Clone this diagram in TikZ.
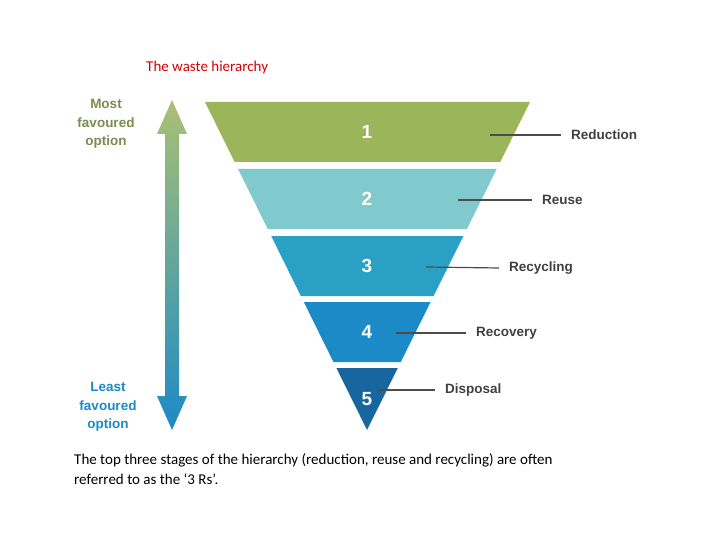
\documentclass[tikz,border=0pt]{standalone}
\usepackage{fontspec}
\setmainfont{Carlito}
\newfontfamily\arialf{Liberation Sans}
\begin{document}
\begin{tikzpicture}[x=1pt,y=-1pt,
  lbl/.style={font=\arialf\bfseries\fontsize{13.5}{14}\selectfont, text=black!75, anchor=west, inner sep=0},
  num/.style={font=\arialf\bfseries\fontsize{19}{19}\selectfont, text=white},
  lead/.style={draw=black!70, line width=1.2pt},
  side/.style={font=\arialf\bfseries\fontsize{13.5}{18.5}\selectfont, align=center}]
\useasboundingbox (0,0) rectangle (720,540);
\fill[white] (0,0) rectangle (720,540);
\definecolor{c1}{HTML}{9BB55A}\definecolor{c2}{HTML}{80C9CC}
\definecolor{c3}{HTML}{2AA0C4}\definecolor{c4}{HTML}{1C8AC6}
\definecolor{c5}{HTML}{17669F}
\foreach \a/\b/\c/\n in {102/162/c1/1,169/229/c2/2,236/296/c3/3,302/362/c4/4,368/430/c5/5}{
  \fill[\c] ({205+0.494*(\a-102)},\a) -- ({530-0.497*(\a-102)},\a) -- ({530-0.497*(\b-102)},\b) -- ({205+0.494*(\b-102)},\b) -- cycle;
  \node[num] (n\n) at (367,{(\a+\b)/2}) {\n};
}
\node[lbl] (l1) at (571,135) {Reduction};
\node[lbl] (l2) at (542,200) {Reuse};
\node[lbl] (l3) at (509,268) {Recycling};
\node[lbl] (l4) at (476,333) {Recovery};
\node[lbl] (l5) at (445,390) {Disposal};
\coordinate (s1) at (490,135);\coordinate (s2) at (458,200);
\coordinate (s3) at (426,267);\coordinate (s4) at (396,333);
\coordinate (s5) at (378,390);
\foreach \i in {1,...,5}{\draw[lead] (s\i) -- ([xshift=-10pt]l\i.west);}
% arrow
\shade[top color=c1!85!white, bottom color=c4]
 (172,100) -- (187,134) -- (179,134) -- (179,396) -- (187,396) -- (172,430) -- (157,396) -- (165,396) -- (165,134) -- (157,134) -- cycle;
\node[side, text=c1!70!black!90] (most) at (106,124) {Most\\favoured\\option};
\node[side, text=c4] (least) at (108,407) {Least\\favoured\\option};
\node[text=red!85!black, font=\fontsize{15}{16}\selectfont, anchor=west, inner sep=0] (title) at (146,68) {The waste hierarchy};
\node[font=\fontsize{15}{20}\selectfont, anchor=north west, align=left, inner sep=0] (body) at (74,453)
 {The top three stages of the hierarchy (reduction, reuse and recycling) are often\\referred to as the ‘3 Rs’.};
\end{tikzpicture}
\end{document}
